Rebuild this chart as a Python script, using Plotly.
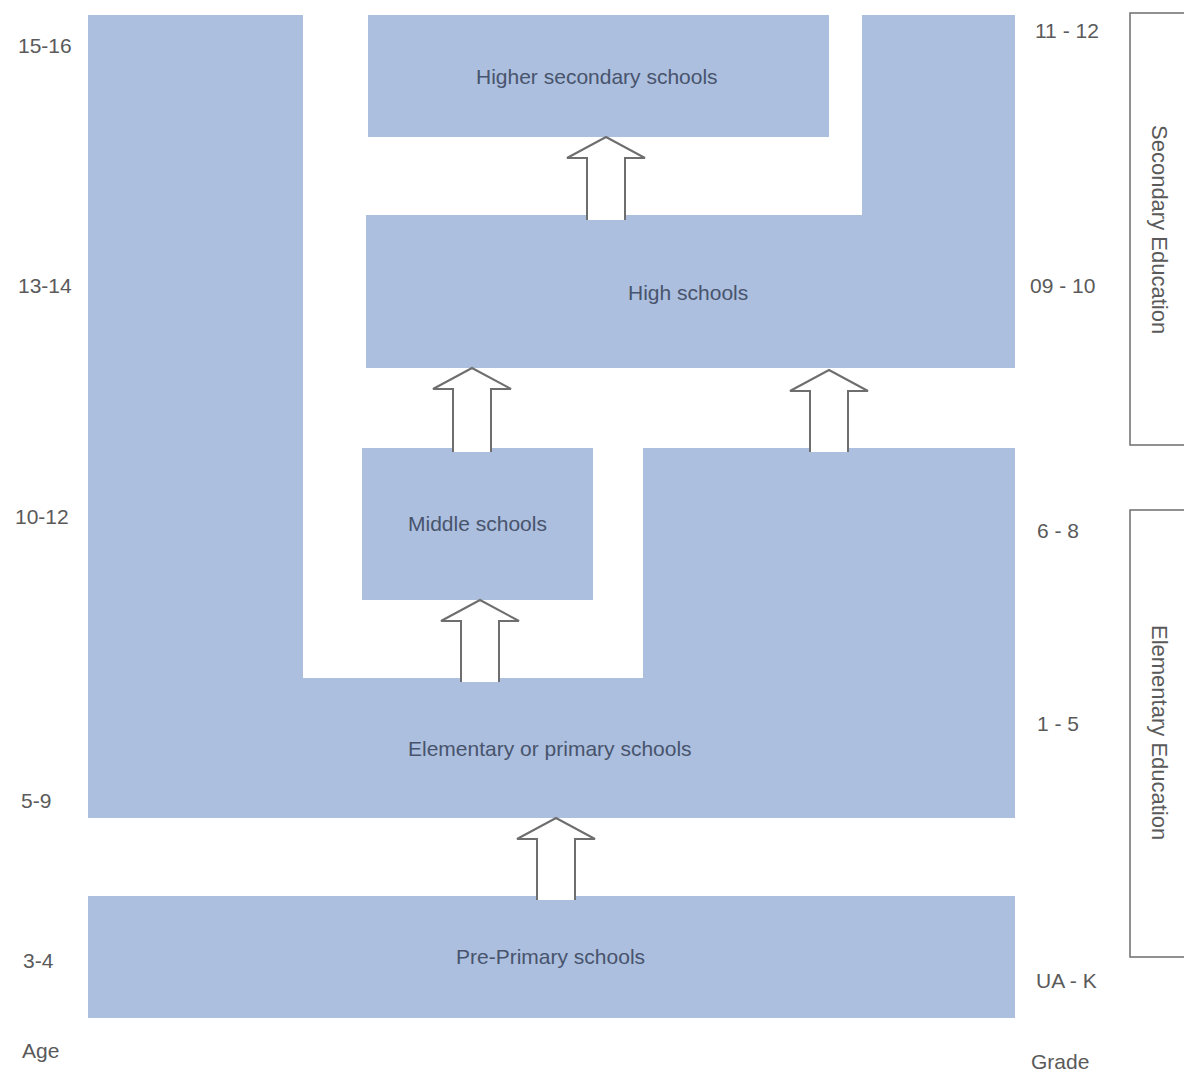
import plotly.graph_objects as go

# ---- data ----
age_labels = ["15-16", "13-14", "10-12", "5-9", "3-4"]
grade_labels = ["11 - 12", "09 - 10", "6 - 8", "1 - 5", "UA - K"]
school_names = ["Higher secondary schools", "High schools", "Middle schools",
                "Elementary or primary schools", "Pre-Primary schools"]
education_levels = ["Secondary Education", "Elementary Education"]
axis_titles = ["Age", "Grade"]

# ---- geometry (page pixel space; page has an 8px body margin) ----
OFF = 8
W, H = 1192 - OFF, 1075 - OFF
BLUE = "#acbfdf"
TXT = "#48546c"
SIDE = "#5a5a5a"
GRAY = "#6e6e6e"

blocks = [
    [(368, 15), (829, 15), (829, 137), (368, 137)],                         # higher secondary
    [(366, 215), (862, 215), (862, 15), (1015, 15), (1015, 368), (366, 368)],  # high
    [(362, 448), (593, 448), (593, 600), (362, 600)],                       # middle
    [(88, 15), (303, 15), (303, 678), (643, 678), (643, 448), (1015, 448),
     (1015, 818), (88, 818)],                                               # elementary
    [(88, 896), (1015, 896), (1015, 1018), (88, 1018)],                     # pre-primary
]
name_pos = [(597, 76), (688, 292), (477, 523), (550, 748), (550, 956)]

arrows = [(556, 900, 818), (480, 682, 600), (472, 452, 368), (829, 452, 370), (606, 220, 137)]
age_pos = [(45, 45), (45, 285), (42, 516), (36, 800), (38, 960)]
grade_pos = [(1067, 30), (1062, 285), (1058, 530), (1058, 723), (1066, 980)]

fig = go.Figure()
shapes = []
for poly in blocks:
    path = "M " + " L ".join(f"{x},{y}" for x, y in poly) + " Z"
    shapes.append(dict(type="path", path=path, fillcolor=BLUE, line=dict(width=0), layer="below"))

for cx, yb, yt in arrows:
    sw, hw, hh = 19, 39, 21
    hb = yt + hh
    pts = [(cx - sw, yb), (cx - sw, hb), (cx - hw, hb), (cx, yt), (cx + hw, hb), (cx + sw, hb), (cx + sw, yb)]
    fill = "M " + " L ".join(f"{x},{y}" for x, y in pts) + " Z"
    shapes.append(dict(type="path", path=fill, fillcolor="white", line=dict(width=0)))
    outline = "M " + " L ".join(f"{x},{y}" for x, y in pts)
    shapes.append(dict(type="path", path=outline, line=dict(color=GRAY, width=2)))

shapes.append(dict(type="rect", x0=1130, x1=1210, y0=13, y1=445, line=dict(color=GRAY, width=1.5)))
shapes.append(dict(type="rect", x0=1130, x1=1210, y0=510, y1=957, line=dict(color=GRAY, width=1.5)))

FS = 21
annotations = []
for name, (x, y) in zip(school_names, name_pos):
    annotations.append(dict(x=x, y=y, text=name, showarrow=False, font=dict(size=FS, color=TXT)))
for lab, (x, y) in zip(age_labels, age_pos):
    annotations.append(dict(x=x, y=y, text=lab, showarrow=False, font=dict(size=FS, color=SIDE)))
for lab, (x, y) in zip(grade_labels, grade_pos):
    annotations.append(dict(x=x, y=y, text=lab, showarrow=False, font=dict(size=FS, color=SIDE)))
annotations.append(dict(x=40, y=1050, text=axis_titles[0], showarrow=False, font=dict(size=FS, color=SIDE)))
annotations.append(dict(x=1060, y=1061, text=axis_titles[1], showarrow=False, font=dict(size=FS, color=SIDE)))
for lab, y in zip(education_levels, [229, 732]):
    annotations.append(dict(x=1160, y=y, text=lab, showarrow=False, textangle=90,
                            font=dict(size=22, color=SIDE)))

fig.update_layout(
    width=W, height=H, margin=dict(l=0, r=0, t=0, b=0),
    paper_bgcolor="white", plot_bgcolor="white",
    xaxis=dict(range=[OFF, 1192], visible=False, fixedrange=True),
    yaxis=dict(range=[1075, OFF], visible=False, fixedrange=True),
    shapes=shapes, annotations=annotations, showlegend=False,
    font=dict(family="Liberation Sans, Arial, sans-serif"),
)
fig.write_html("out.html")
